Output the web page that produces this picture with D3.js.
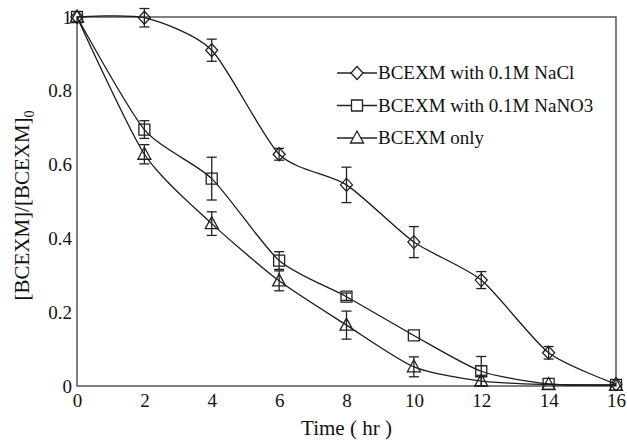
<!DOCTYPE html>
<html>
<head>
<meta charset="utf-8">
<script src="https://cdn.jsdelivr.net/npm/d3@7"></script>
<style>
  body { margin: 0; background: #fff; }
  #chart, #chart text { font-family: "Liberation Serif", "Times New Roman", serif !important; }
</style>
</head>
<body>
<svg id="chart" width="627" height="442" font-family="Liberation Serif"></svg>
<script>
// data
var times = [0, 2, 4, 6, 8, 10, 12, 14, 16];
var naclValues  = [1, 0.998, 0.91, 0.628, 0.545, 0.39, 0.287, 0.09, 0.005];
var naclErrors  = [0, 0.025, 0.03, 0.016, 0.048, 0.042, 0.023, 0.017, 0.004];
var nano3Values = [1, 0.695, 0.562, 0.34, 0.242, 0.137, 0.04, 0.006, 0.003];
var nano3Errors = [0, 0.024, 0.058, 0.024, 0.01, 0.005, 0.04, 0.004, 0.003];
var onlyValues  = [1, 0.628, 0.44, 0.285, 0.165, 0.052, 0.013, 0.004, 0.002];
var onlyErrors  = [0, 0.026, 0.032, 0.027, 0.038, 0.027, 0.016, 0.004, 0.002];
var seriesNames = ["BCEXM with 0.1M NaCl", "BCEXM with 0.1M NaNO3", "BCEXM only"];
var xTicks = [0, 2, 4, 6, 8, 10, 12, 14, 16];
var yTicks = [0, 0.2, 0.4, 0.6, 0.8, 1];

var svg = d3.select("#chart");
var margin = { top: 17, right: 11, bottom: 56, left: 77 };
var innerWidth = 627 - margin.left - margin.right;
var innerHeight = 442 - margin.top - margin.bottom;

var g = svg.append("g")
  .attr("transform", "translate(" + margin.left + "," + margin.top + ")");

var x = d3.scaleLinear().domain([0, 16]).range([0, innerWidth]);
var y = d3.scaleLinear().domain([0, 1]).range([innerHeight, 0]);

// 框
g.append("rect")
  .attr("width", innerWidth)
  .attr("height", innerHeight)
  .attr("fill", "none")
  .attr("stroke", "#555")
  .attr("stroke-width", 1.5);

// axes (labels only, no tick marks)
var xAxis = g.append("g")
  .attr("transform", "translate(0," + innerHeight + ")")
  .call(d3.axisBottom(x).tickValues(xTicks).tickSize(0).tickPadding(8).tickFormat(d3.format("d")));
var yAxis = g.append("g")
  .call(d3.axisLeft(y).tickValues(yTicks).tickSize(0).tickPadding(5).tickFormat(function(d) { return d3.format("")(d); }));
[xAxis, yAxis].forEach(function(a) {
  a.attr("font-family", null).attr("font-size", 19);
  a.select(".domain").remove();
  a.selectAll("text").attr("fill", "#111");
});

// axis titles
svg.append("text")
  .attr("x", margin.left + innerWidth / 2)
  .attr("y", 435)
  .attr("text-anchor", "middle")
  .attr("font-size", 21)
  .attr("fill", "#111")
  .text("Time ( hr )");

var yTitle = svg.append("text")
  .attr("transform", "translate(29," + (margin.top + innerHeight / 2 + 4) + ") rotate(-90)")
  .attr("text-anchor", "middle")
  .attr("font-size", 21)
  .attr("fill", "#111");
yTitle.append("tspan").text("[BCEXM]/[BCEXM]");
yTitle.append("tspan").attr("dy", 5).attr("font-size", 14).text("0");

var series = [
  { name: seriesNames[0], values: naclValues, errors: naclErrors, symbol: "diamond" },
  { name: seriesNames[1], values: nano3Values, errors: nano3Errors, symbol: "square" },
  { name: seriesNames[2], values: onlyValues, errors: onlyErrors, symbol: "triangle" }
];

var line = d3.line()
  .x(function(d) { return x(d.t); })
  .y(function(d) { return y(d.v); })
  .curve(d3.curveCardinal.tension(0.3));

function markerPath(type) {
  if (type === "diamond") return "M0,-6.5L6,0L0,6.5L-6,0Z";
  if (type === "square") return "M-5.5,-5.5H5.5V5.5H-5.5Z";
  return "M0,-7L6.5,5H-6.5Z";
}

series.forEach(function(s) {
  var pts = times.map(function(t, i) { return { t: t, v: s.values[i], e: s.errors[i] }; });

  g.append("path")
    .datum(pts)
    .attr("d", line)
    .attr("fill", "none")
    .attr("stroke", "#1a1a1a")
    .attr("stroke-width", 1.3);

  // error bars
  var eb = g.append("g").selectAll("g")
    .data(pts.filter(function(d) { return d.e > 0.006; }))
    .enter().append("g")
    .attr("stroke", "#222")
    .attr("stroke-width", 1.3);
  eb.append("line")
    .attr("x1", function(d) { return x(d.t); })
    .attr("x2", function(d) { return x(d.t); })
    .attr("y1", function(d) { return y(d.v + d.e); })
    .attr("y2", function(d) { return y(Math.max(0, d.v - d.e)); });
  [1, -1].forEach(function(sign) {
    eb.append("line")
      .attr("x1", function(d) { return x(d.t) - 5; })
      .attr("x2", function(d) { return x(d.t) + 5; })
      .attr("y1", function(d) { return y(Math.max(0, d.v + sign * d.e)); })
      .attr("y2", function(d) { return y(Math.max(0, d.v + sign * d.e)); });
  });

  // markers
  g.append("g").selectAll("path")
    .data(pts)
    .enter().append("path")
    .attr("transform", function(d) { return "translate(" + x(d.t) + "," + y(d.v) + ")"; })
    .attr("d", markerPath(s.symbol))
    .attr("fill", "none")
    .attr("stroke", "#222")
    .attr("stroke-width", 1.3);
});

// legend
var legend = svg.append("g").attr("transform", "translate(337,73)");
series.forEach(function(s, i) {
  var row = legend.append("g").attr("transform", "translate(0," + (i * 32.5) + ")");
  row.append("line").attr("x1", 0).attr("x2", 40).attr("stroke", "#222").attr("stroke-width", 1.3);
  row.append("path")
    .attr("transform", "translate(20,0)")
    .attr("d", markerPath(s.symbol))
    .attr("fill", "#fff")
    .attr("stroke", "#222")
    .attr("stroke-width", 1.3);
  row.append("text")
    .attr("x", 41)
    .attr("y", 6)
    .attr("font-size", 19)
    .attr("fill", "#111")
    .text(s.name);
});
</script>
</body>
</html>
